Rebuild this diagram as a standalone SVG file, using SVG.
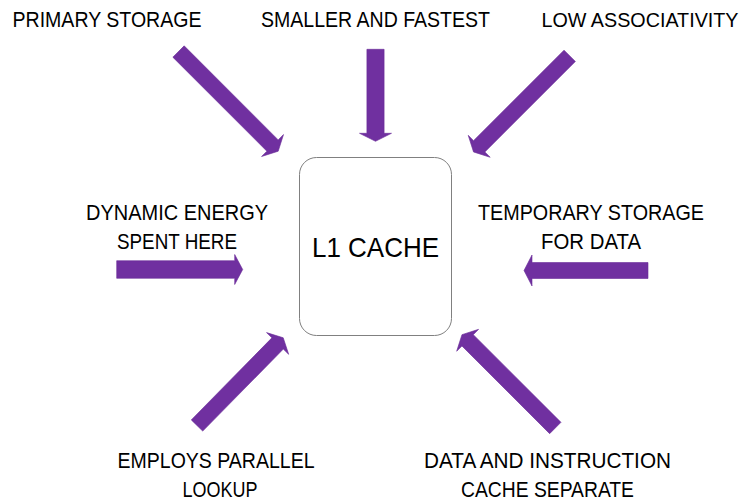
<svg xmlns="http://www.w3.org/2000/svg" width="745" height="501" viewBox="0 0 745 501">
<style>
.lbl{font-family:"Liberation Sans",Arial,sans-serif;font-size:21.5px;fill:#000;text-anchor:middle}
.main{font-family:"Liberation Sans",Arial,sans-serif;font-size:28px;fill:#000;text-anchor:middle}
.arr{fill:#7030A0;stroke:#6a2c98;stroke-width:0.6}
.box{fill:#fff;stroke:#808080;stroke-width:1}
</style>
<rect width="745" height="501" fill="#fff"/>
<g id="connectors">
<path class="arr" transform="translate(178.5,51.5) rotate(45)" d="M0,-8 H133 V-15.5 L141,0 L133,15.5 V8 H0 Z"/>
<path class="arr" transform="translate(375.5,49.3) rotate(90)" d="M0,-8.6 H84 V-16 L92,0 L84,16 V8.6 H0 Z"/>
<path class="arr" transform="translate(569.7,55.8) rotate(135)" d="M0,-8 H128 V-15.5 L136,0 L128,15.5 V8 H0 Z"/>
<path class="arr" transform="translate(116.7,269.5) rotate(0)" d="M0,-8.8 H118 V-15 L126,0 L118,15 V8.8 H0 Z"/>
<path class="arr" transform="translate(648,270.5) rotate(180)" d="M0,-8 H116 V-15.5 L124,0 L116,15.5 V8 H0 Z"/>
<path class="arr" transform="translate(197,425.5) rotate(-45.5)" d="M0,-8 H115 V-15.5 L123,0 L115,15.5 V8 H0 Z"/>
<path class="arr" transform="translate(555.3,428) rotate(-135)" d="M0,-8 H124 V-15.5 L132,0 L124,15.5 V8 H0 Z"/>
</g>
<g id="l1cache">
<rect class="box" x="299.5" y="157.5" width="152" height="178" rx="17" ry="17"/>
<text class="main" x="375.5" y="257" textLength="127" lengthAdjust="spacingAndGlyphs">L1 CACHE</text>
</g>
<g id="primary-storage"><text class="lbl" x="107" y="27" textLength="189" lengthAdjust="spacingAndGlyphs">PRIMARY STORAGE</text></g>
<g id="smaller-fastest"><text class="lbl" x="375.5" y="27" textLength="229" lengthAdjust="spacingAndGlyphs">SMALLER AND FASTEST</text></g>
<g id="low-assoc"><text class="lbl" x="640" y="27" style="font-size:20px" textLength="197" lengthAdjust="spacingAndGlyphs">LOW ASSOCIATIVITY</text></g>
<g id="dynamic-energy"><text class="lbl" x="177" y="220" textLength="182" lengthAdjust="spacingAndGlyphs">DYNAMIC ENERGY</text><text class="lbl" x="177" y="249" textLength="120" lengthAdjust="spacingAndGlyphs">SPENT HERE</text></g>
<g id="temporary-storage"><text class="lbl" x="591" y="220" textLength="226" lengthAdjust="spacingAndGlyphs">TEMPORARY STORAGE</text><text class="lbl" x="591" y="249" textLength="100" lengthAdjust="spacingAndGlyphs">FOR DATA</text></g>
<g id="parallel-lookup"><text class="lbl" x="216" y="468" textLength="197" lengthAdjust="spacingAndGlyphs">EMPLOYS PARALLEL</text><text class="lbl" x="220" y="497" textLength="75" lengthAdjust="spacingAndGlyphs">LOOKUP</text></g>
<g id="data-instruction"><text class="lbl" x="547.5" y="468" textLength="247" lengthAdjust="spacingAndGlyphs">DATA AND INSTRUCTION</text><text class="lbl" x="547.5" y="497" textLength="173" lengthAdjust="spacingAndGlyphs">CACHE SEPARATE</text></g>
</svg>
